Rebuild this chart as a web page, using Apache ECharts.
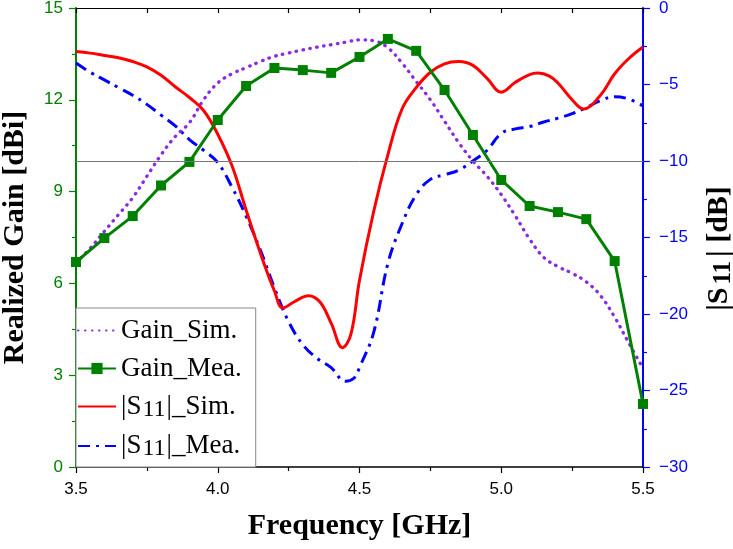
<!DOCTYPE html>
<html>
<head>
<meta charset="utf-8">
<script src="https://cdn.jsdelivr.net/npm/echarts@6/dist/echarts.min.js"></script>
<style>html,body{margin:0;padding:0;background:#fff}#c{width:733px;height:549px}</style>
</head>
<body>
<div id="c"></div>
<script>
// ---- data ----
const gainSimFreq = [3.5,3.55,3.6,3.65,3.7,3.75,3.8,3.85,3.9,3.95,4.0,4.05,4.1,4.15,4.2,4.25,4.3,4.35,4.4,4.45,4.5,4.55,4.6,4.65,4.7,4.75,4.8,4.85,4.9,4.95,5.0,5.05,5.1,5.15,5.2,5.25,5.3,5.35,5.4,5.45,5.5];
const gainSimVal = [6.67,7.15,7.7,8.25,8.8,9.5,10.2,10.8,11.25,12.0,12.55,12.85,13.05,13.25,13.42,13.53,13.63,13.72,13.8,13.88,13.96,13.93,13.7,13.2,12.6,12.0,11.3,10.6,10.0,9.5,8.9,8.2,7.45,6.85,6.55,6.33,6.05,5.6,4.9,4.05,3.23];

const gainMeaFreq = [3.5,3.6,3.7,3.8,3.9,4.0,4.1,4.2,4.3,4.4,4.5,4.6,4.7,4.8,4.9,5.0,5.1,5.2,5.3,5.4,5.5];
const gainMeaVal = [6.7,7.48,8.2,9.2,9.97,11.34,12.45,13.04,12.97,12.88,13.4,13.99,13.6,12.32,10.85,9.38,8.53,8.33,8.1,6.73,2.06];

const s11SimFreq = [3.5,3.55,3.6,3.65,3.7,3.75,3.8,3.85,3.9,3.95,4.0,4.05,4.1,4.15,4.2,4.23,4.27,4.32,4.36,4.4,4.44,4.47,4.5,4.55,4.6,4.65,4.7,4.75,4.8,4.85,4.9,4.95,5.0,5.05,5.1,5.13,5.17,5.2,5.25,5.29,5.35,5.4,5.45,5.5];
const s11SimVal = [-2.85,-2.95,-3.1,-3.25,-3.5,-3.85,-4.4,-5.15,-5.85,-6.7,-8.25,-10.3,-13.2,-16.0,-18.5,-19.6,-19.2,-18.8,-19.2,-20.6,-22.2,-21.3,-17.8,-13.3,-9.6,-6.6,-5.2,-4.2,-3.65,-3.5,-3.75,-4.6,-5.5,-4.85,-4.35,-4.25,-4.45,-4.9,-6.0,-6.6,-5.7,-4.3,-3.3,-2.55];

const s11MeaFreq = [3.5,3.55,3.6,3.65,3.7,3.75,3.8,3.85,3.9,3.95,4.0,4.05,4.1,4.15,4.2,4.25,4.3,4.35,4.4,4.45,4.48,4.5,4.55,4.6,4.65,4.7,4.75,4.8,4.85,4.9,4.95,5.0,5.05,5.1,5.15,5.2,5.25,5.3,5.35,5.4,5.45,5.5];
const s11MeaVal = [-3.6,-4.2,-4.7,-5.2,-5.7,-6.3,-7.0,-7.7,-8.6,-9.3,-10.1,-11.7,-13.6,-15.8,-18.3,-20.5,-22.0,-22.9,-23.5,-24.4,-24.2,-23.5,-21.2,-16.7,-14.1,-12.2,-11.2,-10.9,-10.6,-10.0,-9.3,-8.2,-7.9,-7.75,-7.45,-7.2,-6.9,-6.5,-6.05,-5.8,-5.95,-6.4];

const seriesNames = ['Gain_Sim.','Gain_Mea.','|S11|_Sim.','|S11|_Mea.'];
const refLevelGain = 10;

const zip = (a,b) => a.map((x,i)=>[x,b[i]]);

const serif = 'Liberation Serif';
const sans = 'Liberation Sans';
const GREEN = '#008000', BLUE = '#0000ff', RED = '#ff0000', PURPLE = '#8a2be2';

const chart = echarts.init(document.getElementById('c'), null, {renderer:'canvas'});
chart.setOption({
  animation:false,
  backgroundColor:'#fff',
  grid:{left:76, right:90, top:8, bottom:82, containLabel:false, outerBoundsMode:'none'},
  legend:{
    orient:'vertical', left:76, bottom:82,
    padding:[9,14,6,1], itemGap:11, itemWidth:38, itemHeight:14,
    backgroundColor:'#fff', borderColor:'#888', borderWidth:1,
    data: seriesNames.map((n,i) => i === 1 ? {name:n} : {name:n, itemStyle:{opacity:0}}),
    formatter: n => n.startsWith('|S11|') ? '|S{s|11}|' + n.slice(5) : n,
    textStyle:{fontFamily:serif, fontSize:27, color:'#000',
      rich:{s:{fontFamily:serif, fontSize:24, color:'#000', padding:[6,1,0,1]}}}
  },
  xAxis:[{
    type:'value', min:3.5, max:5.5, interval:0.5, position:'bottom',
    name:'Frequency [GHz]', nameLocation:'middle', nameGap:44,
    nameTextStyle:{fontFamily:serif, fontWeight:'bold', fontSize:30, color:'#000'},
    axisLine:{onZero:false, lineStyle:{color:'#000', width:1.5}},
    axisTick:{length:6, lineStyle:{color:'#000', width:1.2}},
    minorTick:{show:true, splitNumber:2, length:4, lineStyle:{color:'#000', width:1.2}},
    axisLabel:{fontFamily:sans, fontSize:17, color:'#000', margin:14, formatter:v=>v.toFixed(1)},
    splitLine:{show:false}
  },{
    type:'value', min:3.5, max:5.5, interval:0.25, position:'top',
    axisLine:{onZero:false, lineStyle:{color:'#000', width:1.2}},
    axisTick:{inside:true, length:5, lineStyle:{color:'#000', width:1.2}},
    axisLabel:{show:false}, splitLine:{show:false}
  }],
  yAxis:[{
    type:'value', min:0, max:15, interval:3, position:'left',
    name:'Realized Gain [dBi]', nameLocation:'middle', nameGap:46,
    nameTextStyle:{fontFamily:serif, fontWeight:'bold', fontSize:30, color:'#000'},
    axisLine:{onZero:false, lineStyle:{color:GREEN, width:2}},
    axisTick:{length:7, lineStyle:{color:GREEN, width:1.2}},
    minorTick:{show:true, splitNumber:2, length:4, lineStyle:{color:GREEN, width:1.2}},
    axisLabel:{fontFamily:sans, fontSize:17, color:GREEN, margin:13},
    splitLine:{show:false}
  },{
    type:'value', min:-30, max:0, interval:5, position:'right',
    name:'|S{s|11}| [dB]', nameLocation:'middle', nameGap:60,
    nameTextStyle:{fontFamily:serif, fontWeight:'bold', fontSize:30, color:'#000', padding:[0,22,0,0],
      rich:{s:{fontFamily:serif, fontWeight:'bold', fontSize:25, color:'#000', padding:[8,4,0,3]}}},
    axisLine:{onZero:false, lineStyle:{color:BLUE, width:2}},
    axisTick:{length:7, lineStyle:{color:BLUE, width:1.2}},
    minorTick:{show:true, splitNumber:2, length:4, lineStyle:{color:BLUE, width:1.2}},
    axisLabel:{fontFamily:sans, fontSize:17, color:BLUE, margin:16,
      formatter:v => v<0 ? '\u2212'+(-v) : String(v)},
    splitLine:{show:false}
  }],
  series:[{
    name:seriesNames[0], type:'line', xAxisIndex:0, yAxisIndex:0,
    data:zip(gainSimFreq, gainSimVal), smooth:0.4, showSymbol:false, symbol:'circle',
    lineStyle:{color:PURPLE, width:3.3, type:[0.5,6.5], cap:'round'},
    itemStyle:{color:PURPLE}, z:3
  },{
    name:seriesNames[1], type:'line', xAxisIndex:0, yAxisIndex:0,
    data:zip(gainMeaFreq, gainMeaVal), symbol:'rect', symbolSize:10, showSymbol:true,
    lineStyle:{color:GREEN, width:3}, itemStyle:{color:GREEN}, z:4,
    markLine:{silent:true, symbol:'none', label:{show:false},
      lineStyle:{color:'#777', width:1, type:'solid'}, data:[{yAxis:refLevelGain}]}
  },{
    name:seriesNames[2], type:'line', xAxisIndex:0, yAxisIndex:1,
    data:zip(s11SimFreq, s11SimVal), smooth:0.4, showSymbol:false, symbol:'circle',
    lineStyle:{color:RED, width:3}, itemStyle:{color:RED}, z:3
  },{
    name:seriesNames[3], type:'line', xAxisIndex:0, yAxisIndex:1,
    data:zip(s11MeaFreq, s11MeaVal), smooth:0.4, showSymbol:false, symbol:'circle',
    lineStyle:{color:BLUE, width:3, type:[12,6,3,6]}, itemStyle:{color:BLUE}, z:2
  }]
});
</script>
</body>
</html>
